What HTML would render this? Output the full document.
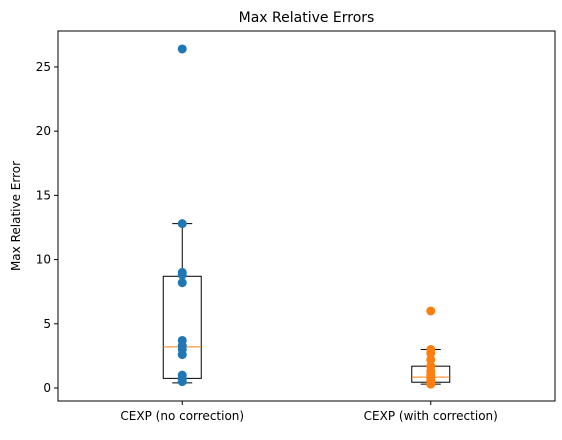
<!DOCTYPE html>
<html><head><meta charset="utf-8"><style>
body{margin:0;background:#fff;font-family:"Liberation Sans","DejaVu Sans",sans-serif}
svg text{font-family:"DejaVu Sans","Liberation Sans",sans-serif}
</style></head><body>
<svg id="c" width="562" height="435"></svg>
<script>
const categories=["CEXP (no correction)","CEXP (with correction)"];
const seriesPoints=[[26.4,12.8,9.0,8.8,8.2,3.7,3.3,3.0,2.6,1.0,0.7,0.5],[6.0,3.0,2.7,2.2,1.7,1.3,1.0,0.8,0.6,0.4,0.3]];
const boxQ1=[0.75,0.45];
const boxMedian=[3.2,0.85];
const boxQ3=[8.7,1.7];
const whiskLow=[0.4,0.3];
const whiskHigh=[12.8,3.0];
const yTicks=[0,5,10,15,20,25];
const colors=["#1f77b4","#ff7f0e"];
const L=58,R=555,T=31,B=401,yMin=-1.012,yMax=27.8;
const svg=document.getElementById('c');const NS="http://www.w3.org/2000/svg";
function y(v){return B-(v-yMin)/(yMax-yMin)*(B-T);}
function x(i){return L+(R-L)*(0.25+0.5*i);}
function el(t,a,p){const e=document.createElementNS(NS,t);for(const k in a)e.setAttribute(k,a[k]);(p||svg).appendChild(e);return e;}
const ti=el('text',{x:(L+R)/2,y:22,'text-anchor':'middle','font-size':14});ti.textContent="Max Relative Errors";


yTicks.forEach(v=>{const g=el('g',{});


el('line',{x1:L-4,x2:L,y1:y(v),y2:y(v),stroke:'#000'},g);
const t=el('text',{x:L-7,y:y(v)+4,'text-anchor':'end','font-size':12},g);t.textContent=v;});
const yl=el('text',{transform:`translate(20,${(T+B)/2}) rotate(-90)`,'text-anchor':'middle','font-size':12});yl.textContent="Max Relative Error";


categories.forEach((c,i)=>{const cx=x(i);const g=el('g',{});


el('line',{x1:cx,x2:cx,y1:B,y2:B+4,stroke:'#000'},g);
const t=el('text',{x:cx,y:B+19,'text-anchor':'middle','font-size':12},g);t.textContent=c;
const w=38;
el('rect',{x:cx-w/2,y:y(boxQ3[i]),width:w,height:y(boxQ1[i])-y(boxQ3[i]),fill:'none',stroke:'#000'},g);
el('line',{x1:cx,x2:cx,y1:y(boxQ3[i]),y2:y(whiskHigh[i]),stroke:'#000'},g);
el('line',{x1:cx,x2:cx,y1:y(boxQ1[i]),y2:y(whiskLow[i]),stroke:'#000'},g);
el('line',{x1:cx-10,x2:cx+10,y1:y(whiskHigh[i]),y2:y(whiskHigh[i]),stroke:'#000'},g);
el('line',{x1:cx-10,x2:cx+10,y1:y(whiskLow[i]),y2:y(whiskLow[i]),stroke:'#000'},g);
el('line',{x1:cx-w/2,x2:cx+w/2,y1:y(boxMedian[i]),y2:y(boxMedian[i]),stroke:'#ff7f0e'},g);
seriesPoints[i].forEach(v=>{const p=el('circle',{cx:cx,cy:y(v),r:4.5,fill:colors[i]});

});
});
const fr=el('rect',{x:L,y:T,width:R-L,height:B-T,fill:'none',stroke:'#000','stroke-width':1});


</script>
</body></html>
